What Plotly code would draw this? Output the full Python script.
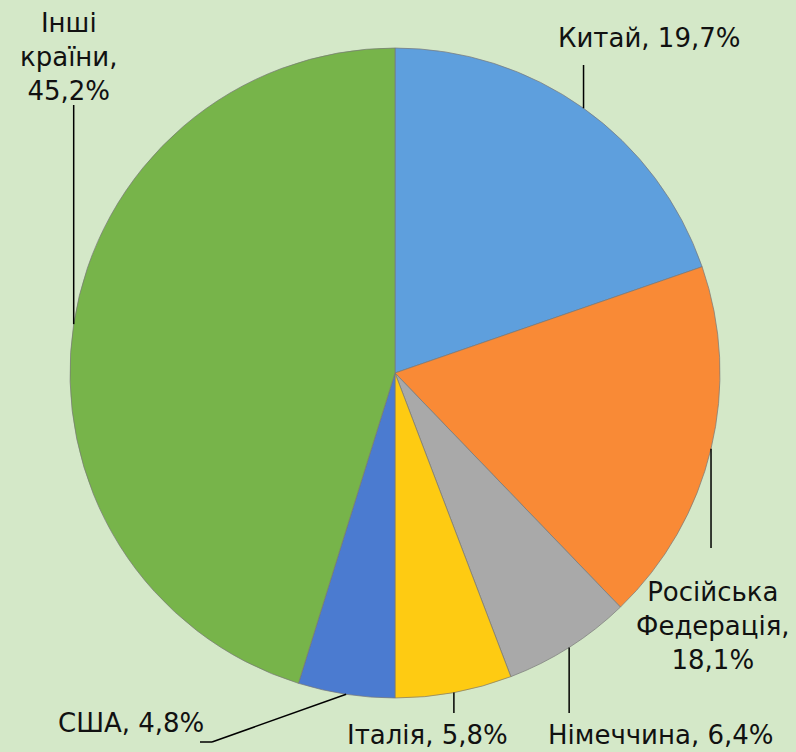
import math
import plotly.graph_objects as go

labels = ["Китай", "Російська Федерація", "Німеччина", "Італія", "США", "Інші країни"]
values = [19.7, 18.1, 6.4, 5.8, 4.8, 45.2]
label_texts = ["Китай, 19,7%", "Російська<br>Федерація,<br>18,1%", "Німеччина, 6,4%",
               "Італія, 5,8%", "США, 4,8%", "Інші<br>країни,<br>45,2%"]
colors = ["#5e9fdd", "#f98a36", "#a9a9a9", "#fecb12", "#4b7bd0", "#77b44a"]

W, H = 796, 752
CX, CY, R = 395, 373, 325
BG = "#d4e8c8"

# label centres (pixels) and leader-line end points (pixels)
label_pos = [(649, 38), (713, 626), (661, 735), (427, 735), (131, 723), (69, 57)]
leader_end = [(None, 65), (None, 548), (None, 713), (None, 713), (212, 742), (None, 105)]

def px(x):
    return x / W

def py(y):
    return 1 - y / H

fig = go.Figure(go.Pie(
    labels=labels, values=values, sort=False, direction="clockwise", rotation=0,
    marker=dict(colors=colors, line=dict(color="rgba(120,120,120,0.7)", width=1)),
    textinfo="none", hoverinfo="label+percent", showlegend=False,
    domain=dict(x=[px(CX - R), px(CX + R)], y=[py(CY + R), py(CY - R)]),
))

total = sum(values)
cum = 0
shapes = []
annotations = []
for i, v in enumerate(values):
    mid = 2 * math.pi * (cum + v / 2) / total
    cum += v
    ex = CX + R * math.sin(mid)
    ey = CY - R * math.cos(mid)
    lx, ly = leader_end[i]
    if lx is None:
        shapes.append(dict(type="line", xref="paper", yref="paper",
                           x0=px(ex), y0=py(ey), x1=px(ex), y1=py(ly),
                           line=dict(color="black", width=1.5)))
    else:
        shapes.append(dict(type="line", xref="paper", yref="paper",
                           x0=px(ex), y0=py(ey), x1=px(lx), y1=py(ly),
                           line=dict(color="black", width=1.5)))
        shapes.append(dict(type="line", xref="paper", yref="paper",
                           x0=px(lx), y0=py(ly), x1=px(lx - 12), y1=py(ly),
                           line=dict(color="black", width=1.5)))
    tx, ty = label_pos[i]
    annotations.append(dict(text=label_texts[i], x=px(tx), y=py(ty), xref="paper", yref="paper",
                            xanchor="center", yanchor="middle", showarrow=False, align="center",
                            font=dict(family="DejaVu Sans, Verdana, sans-serif", size=26, color="#111111")))

fig.update_layout(
    width=W, height=H, margin=dict(l=0, r=0, t=0, b=0),
    paper_bgcolor=BG, plot_bgcolor=BG,
    shapes=shapes, annotations=annotations,
)
fig.write_html("out.html", config={"displayModeBar": False},
               post_script="document.body.style.margin='0';document.body.style.background='" + BG + "';")
